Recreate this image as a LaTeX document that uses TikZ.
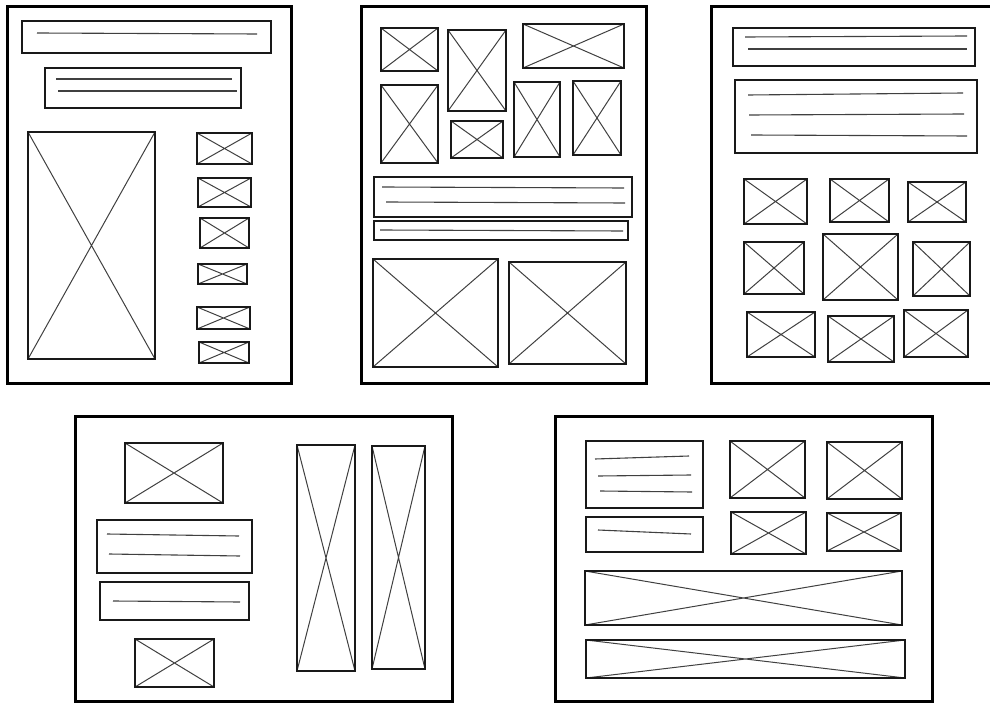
\documentclass[tikz,border=0pt]{standalone}
\usepackage{tikz}
\usetikzlibrary{positioning}
\tikzset{
  wfPage/.style={draw=black, line width=3pt},
  %% boxes of a wireframe
  wfBox/.style={draw=black!90, line width=2pt},
  wfCross/.style={draw=black!75, line width=1pt},
  wfLine/.style={draw=black!75, line width=1.1pt},
}

\begin{document}
\begin{tikzpicture}[x=1pt, y=-1pt]
\useasboundingbox (0,0) rectangle (990,703);

%% pages
\draw[wfPage] (7,7) rectangle (291,383);
\draw[wfPage] (361,7) rectangle (646,383);
\draw[wfPage] (995,7) -- (711,7) -- (711,383) -- (995,383);
\draw[wfPage] (75,416) rectangle (452,701);
\draw[wfPage] (555,416) rectangle (932,701);

%% image placeholders
\foreach \xa/\ya/\xb/\yb in {
  28/132/155/359, 197/133/252/164, 198/178/251/207, 200/218/249/248,
  198/264/247/284, 197/307/250/329, 199/342/249/363,
  381/28/438/71, 448/30/506/111, 523/24/624/68, 381/85/438/163,
  451/121/503/158, 514/82/560/157, 573/81/621/155,
  373/259/498/367, 509/262/626/364,
  744/179/807/224, 830/179/889/222, 908/182/966/222,
  744/242/804/294, 823/234/898/300, 913/242/970/296,
  747/312/815/357, 828/316/894/362, 904/310/968/357,
  125/443/223/503, 135/639/214/687, 297/445/355/671, 372/446/425/669,
  730/441/805/498, 827/442/902/499, 731/512/806/554, 827/513/901/551,
  585/571/902/625, 586/640/905/678}
{
  \draw[wfCross] (\xa,\ya) -- (\xb,\yb) (\xa,\yb) -- (\xb,\ya);
  \draw[wfBox] (\xa,\ya) rectangle (\xb,\yb);
}

%% text blocks
\foreach \xa/\ya/\xb/\yb in {
  22/21/271/53, 45/68/241/108,
  374/177/632/217, 374/221/628/240,
  733/28/975/66, 735/80/977/153,
  97/520/252/573, 100/582/249/620,
  586/441/703/508, 586/517/703/552}
  \draw[wfBox] (\xa,\ya) rectangle (\xb,\yb);

%% text lines
\foreach \xa/\ya/\xb/\yb in {
  37/33/257/34, 56/79/232/79, 58/91/237/91,
  382/187/624/188, 386/202/625/203, 380/230/623/231,
  745/37/967/36, 748/49/967/49,
  748/95/963/93, 749/115/964/114, 751/135/967/136,
  107/534/239/536, 109/554/240/556, 113/601/240/602,
  595/459/689/456, 598/476/691/475, 600/491/692/492,
  598/530/691/534}
  \draw[wfLine] (\xa,\ya) -- (\xb,\yb);

\end{tikzpicture}
\end{document}
